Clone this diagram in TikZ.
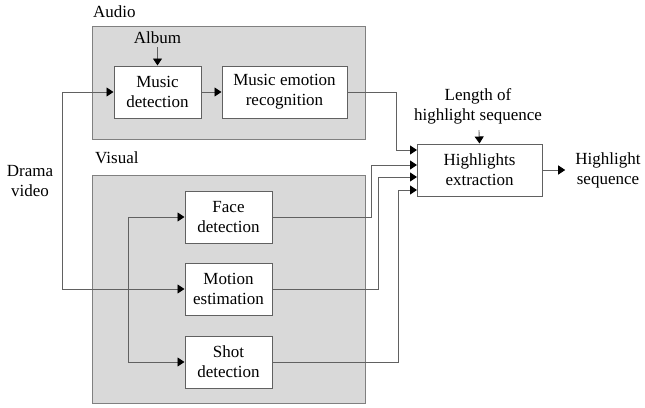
\documentclass[tikz,border=0pt]{standalone}
\usepackage{fontspec}
\setmainfont{Liberation Serif}
\usetikzlibrary{arrows.meta}
\def\wirecolor{black!62}
\def\panelcolor{black!15}

\begin{document}
\begin{tikzpicture}[x = 1pt, y = -1pt, font = \fontsize{17}{20}\selectfont,
	block/.style = {draw = \wirecolor, fill = white, line width = 1pt, align = center, inner sep = 0pt},
	panel/.style = {draw = black!50, fill = \panelcolor, line width = 1pt},
	wire/.style = {draw = \wirecolor, line width = 0.9pt},
	arr/.style = {wire, -{Triangle[length = 7pt, width = 9pt, black]}}]
	\useasboundingbox (0, 0) rectangle (645, 407);
	\draw[panel] (92, 26) rectangle (365, 139);
	\draw[panel] (92, 175) rectangle (365, 403);
	\node[anchor = west, inner sep = 0pt] (audio) at (93, 12) {Audio};
	\node[anchor = west, inner sep = 0pt] (visual) at (95, 158) {Visual};
	\node[block, minimum width = 87, minimum height = 52] (musdet) at (157.5, 92) {Music\\detection};
	\node[block, minimum width = 125, minimum height = 52] (musemo) at (284.5, 92) {Music emotion\\recognition};
	\node[block, minimum width = 87, minimum height = 52] (face) at (228.5, 217) {Face\\detection};
	\node[block, minimum width = 87, minimum height = 52] (motion) at (228.5, 289) {Motion\\estimation};
	\node[block, minimum width = 87, minimum height = 52] (shot) at (228.5, 362) {Shot\\detection};
	\node[block, minimum width = 125, minimum height = 52] (hlx) at (479.5, 170) {Highlights\\extraction};
	\node[inner sep = 3pt] (album) at (157.5, 38) {Album};
	\node[align = center, inner sep = 0pt] (drama) at (30, 181) {Drama\\video};
	\node[align = center, inner ysep = 6pt] (length) at (478, 106) {Length of\\highlight sequence};
	\node[align = center, inner xsep = 10pt] (hlseq) at (608, 170) {Highlight\\sequence};
	\coordinate (split) at (62, 289);
	\coordinate (fork) at (128, 289);
	\coordinate (in1) at (417, 150);
	\coordinate (in2) at (417, 165);
	\coordinate (in3) at (417, 177);
	\coordinate (in4) at (417, 190);
	\draw[arr] (album) -- (musdet.north);
	\draw[arr] (length) -- (hlx.north);
	\draw[arr] (split) |- (musdet.west);
	\draw[arr] (split) -- (motion.west);
	\draw[arr] (fork) |- (face.west);
	\draw[arr] (fork) |- (shot.west);
	\draw[arr] (musdet.east) -- (musemo.west);
	\draw[arr] (musemo.east) -- (396, 92) |- (in1);
	\draw[arr] (face.east) -- (371, 217) |- (in2);
	\draw[arr] (motion.east) -- (378, 289) |- (in3);
	\draw[arr] (shot.east) -- (398, 362) |- (in4);
	\draw[arr] (hlx.east) -- (hlseq.west);
\end{tikzpicture}
\end{document}
